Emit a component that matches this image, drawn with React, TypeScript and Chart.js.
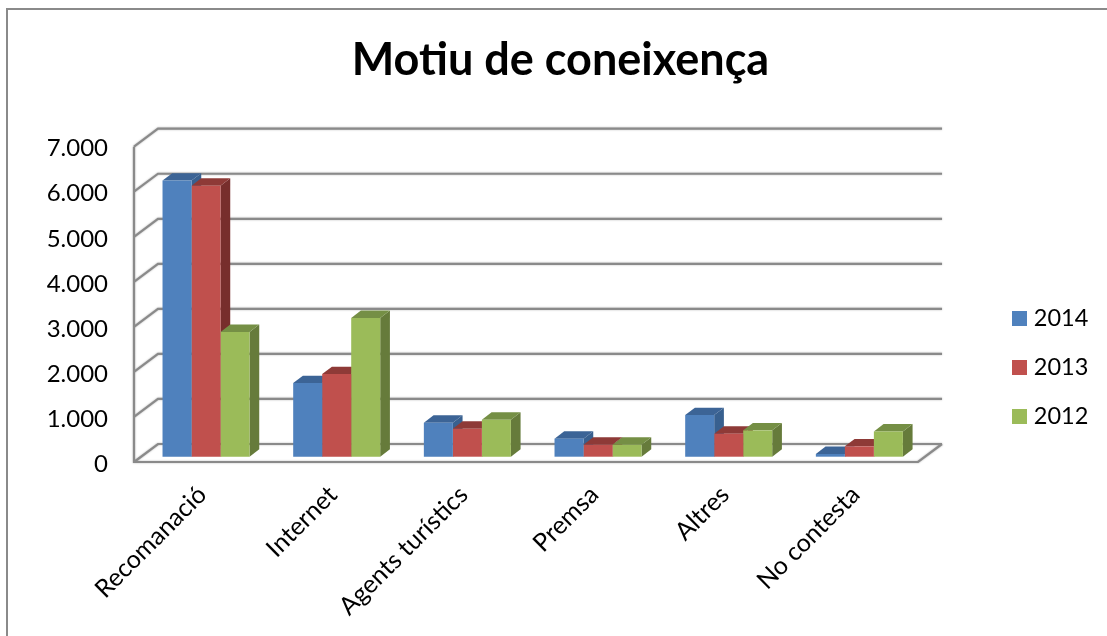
import React, { useEffect, useRef } from "react";
import { Chart, registerables } from "chart.js";

Chart.register(...registerables);

const categories = ["Recomanació", "Internet", "Agents turístics", "Premsa", "Altres", "No contesta"];
const values2014 = [6130, 1635, 755, 400, 925, 60];
const values2013 = [6015, 1835, 620, 265, 510, 230];
const values2012 = [2770, 3080, 820, 265, 585, 560];
const seriesNames = ["2014", "2013", "2012"];
const frontColors = ["#4F81BD", "#C0504D", "#9BBB59"];
const sideColors = ["#38608F", "#772E2C", "#667B3B"];
const topColors = ["#3C6496", "#8E3A37", "#758F45"];

const FONT = "Lato, 'Open Sans', sans-serif";
const WALL = "#8A8A8A";
const W = 1107;
const H = 636;

function swatch(color: string) {
  const c = document.createElement("canvas");
  c.width = 15;
  c.height = 15;
  const g = c.getContext("2d")!;
  g.fillStyle = color;
  g.fillRect(0, 0, 15, 15);
  return c;
}

function nudgeLabels(chart: any, scale: any, dx: number, dy: number) {
  if (scale.__wrapped) return;
  const draw = scale.drawLabels;
  scale.drawLabels = function (area: any) {
    chart.ctx.save();
    chart.ctx.translate(dx, dy);
    draw.call(this, area);
    chart.ctx.restore();
  };
  scale.__wrapped = true;
}

const depthPlugin = {
  id: "depth3d",
  beforeUpdate(chart: any) {
    const legend = chart.legend;
    if (legend && !legend.__wrapped) {
      const fit = legend.fit;
      legend.fit = function () {
        fit.call(this);
        this.width = 189;
      };
      legend.__wrapped = true;
    }
  },
  afterLayout(chart: any) {
    const legend = chart.legend;
    const pad = legend.options.labels.padding;
    legend.left = 1016 - pad;
    legend.right = W;
    legend.top = 247;
    legend.bottom = 487;
    nudgeLabels(chart, chart.scales.y, 0, 2);
    nudgeLabels(chart, chart.scales.x, 3, -1);
  },
  beforeDatasetsDraw(chart: any) {
    const { ctx, chartArea, scales } = chart;
    const y = scales.y;
    const wallDx = 24;
    const wallDy = 18;
    const l = chartArea.left;
    const r = chartArea.right;

    ctx.save();
    ctx.strokeStyle = WALL;
    ctx.lineWidth = 2;
    ctx.beginPath();
    ctx.moveTo(W, 9);
    ctx.lineTo(7, 9);
    ctx.lineTo(7, H);
    ctx.stroke();

    ctx.shadowColor = "rgba(0,0,0,0.3)";
    ctx.shadowBlur = 2;
    ctx.lineWidth = 2.2;
    ctx.beginPath();
    y.ticks.forEach((t: any) => {
      const py = y.getPixelForValue(t.value);
      ctx.moveTo(l, py);
      ctx.lineTo(l + wallDx, py - wallDy);
      ctx.lineTo(r + wallDx, py - wallDy);
    });
    const y0 = y.getPixelForValue(0);
    ctx.moveTo(l, y.getPixelForValue(y.max));
    ctx.lineTo(l, y0);
    ctx.lineTo(r, y0);
    ctx.lineTo(r + wallDx, y0 - wallDy);
    ctx.stroke();
    ctx.restore();

    ctx.save();
    ctx.translate(6.7, -5.3);
    const dx = 9.7;
    const dy = 7.4;
    categories.forEach((_, i) => {
      chart.data.datasets.forEach((_d: any, d: number) => {
        const bar = chart.getDatasetMeta(d).data[i];
        const x0 = bar.x - bar.width / 2;
        const x1 = bar.x + bar.width / 2;
        ctx.fillStyle = sideColors[d];
        ctx.beginPath();
        ctx.moveTo(x1, bar.y);
        ctx.lineTo(x1 + dx, bar.y - dy);
        ctx.lineTo(x1 + dx, bar.base - dy);
        ctx.lineTo(x1, bar.base);
        ctx.closePath();
        ctx.fill();
        ctx.fillStyle = topColors[d];
        ctx.beginPath();
        ctx.moveTo(x0, bar.y);
        ctx.lineTo(x0 + dx, bar.y - dy);
        ctx.lineTo(x1 + dx, bar.y - dy);
        ctx.lineTo(x1, bar.y);
        ctx.closePath();
        ctx.fill();
      });
    });
  },
  afterDatasetsDraw(chart: any) {
    chart.ctx.restore();
  },
};

export default function App() {
  const ref = useRef<HTMLCanvasElement | null>(null);

  useEffect(() => {
    if (!ref.current) return;
    const series = [values2014, values2013, values2012];
    const swatches = frontColors.map(swatch);
    const chart = new Chart(ref.current, {
      type: "bar",
      data: {
        labels: categories,
        datasets: seriesNames.map((name, i) => ({
          label: name,
          data: series[i],
          backgroundColor: frontColors[i],
          barPercentage: 1,
          categoryPercentage: 0.666,
          clip: false as any,
        })),
      },
      options: {
        animation: false,
        responsive: false,
        layout: { autoPadding: false, padding: { left: 14, top: 0, right: 0, bottom: 0 } },
        plugins: {
          title: {
            display: true,
            text: "Motiu de coneixença",
            color: "#000",
            font: { family: FONT, size: 45, weight: "bold", lineHeight: 1.2 },
            padding: { top: 33, bottom: 59.7 },
          },
          legend: {
            display: true,
            position: "right",
            labels: {
              usePointStyle: true,
              pointStyleWidth: 6,
              boxHeight: 15,
              padding: 25.5,
              color: "#000",
              font: { family: FONT, size: 23.5 },
              generateLabels(c: any) {
                return Chart.defaults.plugins.legend.labels
                  .generateLabels(c)
                  .map((item: any, i: number) => ({ ...item, pointStyle: swatches[i] }));
              },
            },
          },
          tooltip: { enabled: false },
        },
        scales: {
          x: {
            grid: { display: false },
            border: { display: false },
            afterFit(s: any) {
              s.height = H - 462;
            },
            ticks: {
              color: "#000",
              autoSkip: false,
              minRotation: 45,
              maxRotation: 45,
              padding: 11,
              font: { family: FONT, size: 25 },
            },
          },
          y: {
            min: 0,
            max: 7000,
            grid: { display: false },
            border: { display: false },
            afterFit(s: any) {
              s.width = 120;
            },
            ticks: {
              stepSize: 1000,
              color: "#000",
              padding: 18,
              font: { family: FONT, size: 24 },
              callback: (v: any) => String(v).replace(/\B(?=(\d{3})+$)/g, "."),
            },
          },
        },
      },
      plugins: [depthPlugin],
    } as any);
    return () => chart.destroy();
  }, []);

  return (
    <div style={{ position: "fixed", left: 0, top: 0, width: W, height: H, background: "#fff" }}>
      <canvas ref={ref} width={W} height={H} style={{ display: "block" }} />
    </div>
  );
}
